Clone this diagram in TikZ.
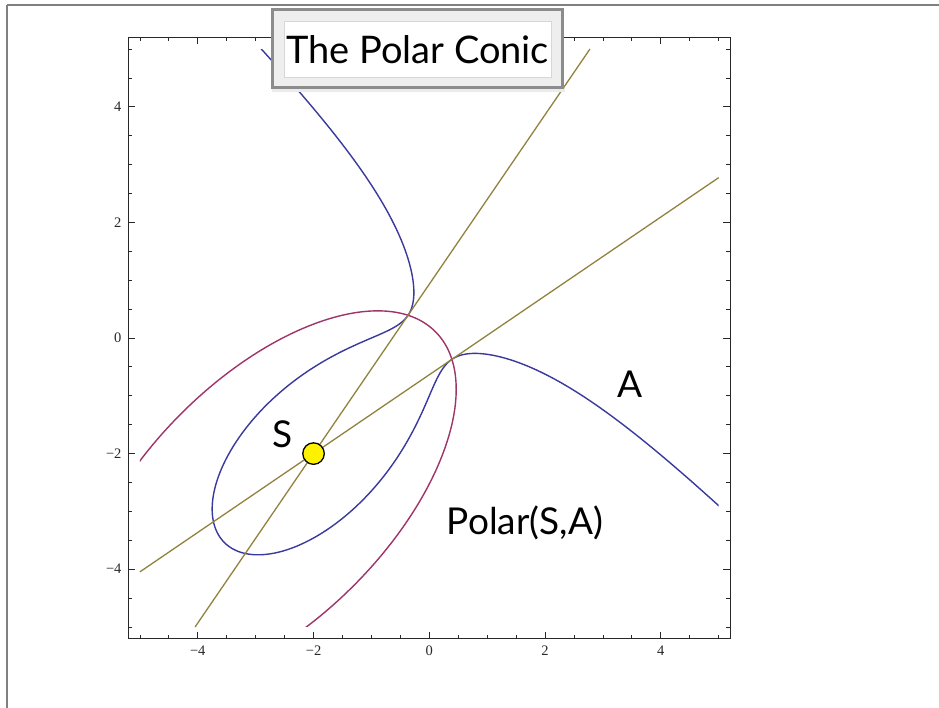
\documentclass[tikz,border=0pt]{standalone}
\usepackage{fontspec}
\newfontfamily\tickfont{Liberation Serif}
\newfontfamily\labfont{Lato}
\definecolor{cubicblue}{RGB}{58,58,158}
\definecolor{conicred}{RGB}{158,52,104}
\definecolor{lineolive}{RGB}{146,130,62}
\definecolor{slidegrey}{RGB}{128,128,128}
\definecolor{framegrey}{RGB}{40,40,40}
\definecolor{boxborder}{RGB}{140,140,140}
\definecolor{boxfill}{RGB}{238,238,238}
\definecolor{innerborder}{RGB}{215,215,215}
\tikzset{
  declare function={
    cu(\w)=-7.0798+\w*\w;
    cq(\w)=cu(\w)*cu(\w)-0.0798*cu(\w)+0.565;
    cv(\w)=\w*sqrt(cq(\w)/(7-3*cu(\w)));
  },
  framestyle/.style={draw=framegrey, line width=0.9pt},
  tickstyle/.style={draw=framegrey, line width=0.8pt},
  ticklab/.style={font=\tickfont\fontsize{14.5}{15}\selectfont, inner sep=0pt, text=framegrey},
  biglab/.style={font=\labfont\fontsize{37}{40}\selectfont, inner sep=0pt},
  cubicstyle/.style={draw=cubicblue, line width=1.4pt, line join=round},
  conicstyle/.style={draw=conicred, line width=1.4pt},
  tangentline/.style={draw=lineolive, line width=1.3pt},
  spoint/.style={circle, fill=yellow, draw=black, line width=1.3pt, minimum size=21.5pt, inner sep=0pt},
}
\begin{document}
\begin{tikzpicture}[x=1pt,y=-1pt]
\useasboundingbox (0,0) rectangle (939,708);
\fill[white] (0,0) rectangle (939,708);
% slide border
\draw[slidegrey, line width=2pt] (7.2,5.5) -- (939,5.5);
\draw[slidegrey, line width=1.5pt] (7.2,5.5) -- (7.2,708);

\begin{scope}[xshift=429.3pt, yshift=-338pt, x=57.88pt, y=57.79pt]
  % frame
  \draw[framestyle] (-5.2,-5.2) rectangle (5.2,5.2);
  \foreach \v in {-5,-4.5,-3.5,-3,-2.5,-1.5,-1,-0.5,0.5,1,1.5,2.5,3,3.5,4.5,5} {
    \draw[tickstyle] (\v,-5.2) -- ++(0pt,4pt);
    \draw[tickstyle] (\v,5.2) -- ++(0pt,-4pt);
    \draw[tickstyle] (-5.2,\v) -- ++(4pt,0pt);
    \draw[tickstyle] (5.2,\v) -- ++(-4pt,0pt);
  }
  \foreach \v in {-4,-2,0,2,4} {
    \draw[tickstyle] (\v,-5.2) -- ++(0pt,7pt);
    \draw[tickstyle] (\v,5.2) -- ++(0pt,-7pt);
    \draw[tickstyle] (-5.2,\v) -- ++(7pt,0pt);
    \draw[tickstyle] (5.2,\v) -- ++(-7pt,0pt);
  }
  \foreach \v/\t/\n in {-4/−4/a,-2/−2/b,0/0/c,2/2/d,4/4/e} {
    \node[ticklab] (xl\n) at (\v,-5.416) {\t};
    \node[ticklab, anchor=east] (yl\n) at (-5.3145,\v) {\t};
  }
  % curves
  \begin{scope}
    \clip (-5,-5) rectangle (5,5);
    \draw[conicstyle, rotate around={45:(-2.8,-2.8)}] (-2.8,-2.8) ellipse [x radius=4.1085, y radius=2.1076];
    \draw[cubicstyle]
      plot[domain=-3.036:-2.6, samples=120, variable=\w] ({(cu(\w)+cv(\w))/2},{(cu(\w)-cv(\w))/2})
      -- plot[domain=-2.6:2.6, samples=320, variable=\w] ({(cu(\w)+cv(\w))/2},{(cu(\w)-cv(\w))/2})
      -- plot[domain=2.6:3.036, samples=120, variable=\w] ({(cu(\w)+cv(\w))/2},{(cu(\w)-cv(\w))/2});
  \end{scope}
  % tangent lines through S
  \coordinate (L1a) at (-4.0466,-5);
  \coordinate (L1b) at (2.7754,5);
  \coordinate (L2a) at (-5,-4.0466);
  \coordinate (L2b) at (5,2.7754);
  \draw[tangentline] (L1a) -- (L1b);
  \draw[tangentline] (L2a) -- (L2b);
  \node[spoint] (S) at (-2,-2) {};
\end{scope}

% labels
\node[biglab, anchor=base] (labA) at (630,397.3) {A};
\node[biglab, anchor=base] (labS) at (282.5,447.7) {S};
\node[biglab, anchor=base west] (labP) at (446.7,534.5) {Polar(S,A)};

% title box
\fill[black!8] (272,88) rectangle (565,92);
\draw[draw=boxborder, line width=3pt, fill=boxfill] (272.2,9.8) rectangle (562.5,87.5);
\draw[draw=innerborder, line width=0.8pt, fill=white] (284.3,21) rectangle (551,77.3);
\node[font=\labfont\fontsize{38}{40}\selectfont, inner sep=0pt, anchor=base] (title) at (417.6,63.3) {The Polar Conic};
\end{tikzpicture}
\end{document}
